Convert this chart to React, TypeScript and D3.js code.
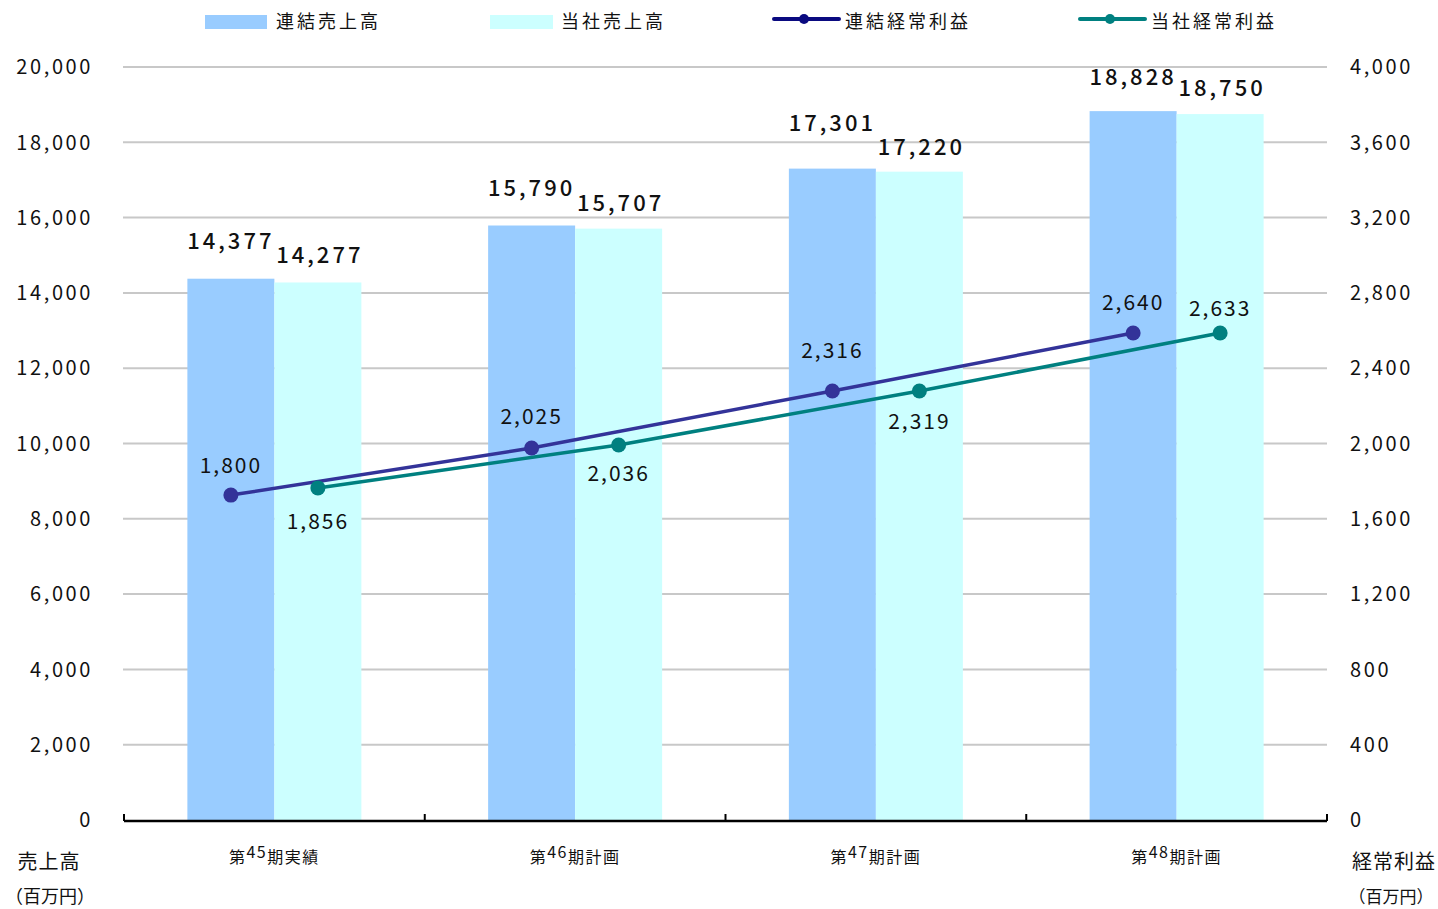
import React from "react";
import * as d3 from "d3";

const categories = ["45", "46", "47", "48"];
const categoryPrefix = "第";
const categorySuffix = ["期実績", "期計画", "期計画", "期計画"];
const seriesNames = ["連結売上高", "当社売上高", "連結経常利益", "当社経常利益"];
const consolidatedSales = [14377, 15790, 17301, 18828];
const companySales = [14277, 15707, 17220, 18750];
// plotted positions of the profit lines
const consolidatedProfitPlot = [1726, 1976, 2279, 2587];
const companyProfitPlot = [1764, 1992, 2279, 2587];
// the value labels printed on the profit lines
const consolidatedProfitLabels = [1800, 2025, 2316, 2640];
const companyProfitLabels = [1856, 2036, 2319, 2633];
const leftTicks = [0, 2000, 4000, 6000, 8000, 10000, 12000, 14000, 16000, 18000, 20000];
const rightTicks = [0, 400, 800, 1200, 1600, 2000, 2400, 2800, 3200, 3600, 4000];

const W = 1438;
const H = 909;
const FONT = "'Noto Sans CJK JP', 'Noto Sans', sans-serif";
const C_DARKBAR = "#99CCFF";
const C_LIGHTBAR = "#CCFFFF";
const C_LINE1 = "#333399";
const C_LINE1_LEG = "#0A0A80";
const C_LINE2 = "#008080";

export default function App() {
  const x0 = 124, x1 = 1327, yTop = 67, yBot = 820;
  const fmt = d3.format(",");
  const xBand = d3.scaleBand<string>().domain(categories).range([x0, x1]).padding(0);
  const groupW = 174;
  const xInner = d3.scaleBand<string>().domain(["a", "b"]).range([0, groupW]).padding(0);
  const yL = d3.scaleLinear().domain([0, 20000]).range([yBot, yTop]);
  const yR = d3.scaleLinear().domain([0, 4000]).range([yBot, yTop]);
  const gx = (c: string) => (xBand(c) as number) + xBand.bandwidth() / 2 - groupW / 2;
  const cxA = (c: string) => gx(c) + (xInner("a") as number) + xInner.bandwidth() / 2;
  const cxB = (c: string) => gx(c) + (xInner("b") as number) + xInner.bandwidth() / 2;

  const line1 = d3.line<number>().x((_, i) => cxA(categories[i])).y((d) => yR(d));
  const line2 = d3.line<number>().x((_, i) => cxB(categories[i])).y((d) => yR(d));

  const l1Off = [-22, -24, -33, -23];
  const l2Off = [41, 36, 38, -17];
  const b1Off = [-30, -30, -38, -26];
  const b2Off = [-19, -18, -17, -18];

  const tickXs = [...categories.map((c) => xBand(c) as number), x1];

  return (
    <div style={{ position: "absolute", left: 0, top: 0 }}>
      <svg width={W} height={H} style={{ display: "block", fontFamily: FONT }}>
        <rect width={W} height={H} fill="#fff" />
        {/* gridlines */}
        {leftTicks.slice(1).map((t) => (
          <line key={t} x1={x0 - 1} x2={x1} y1={yL(t)} y2={yL(t)} stroke="#C8C8C8" strokeWidth={2} />
        ))}
        {/* bars */}
        {categories.map((c, i) => (
          <g key={c}>
            <rect x={gx(c) + (xInner("a") as number)} width={xInner.bandwidth()} y={yL(consolidatedSales[i])} height={yBot - yL(consolidatedSales[i])} fill={C_DARKBAR} />
            <rect x={gx(c) + (xInner("b") as number)} width={xInner.bandwidth()} y={yL(companySales[i])} height={yBot - yL(companySales[i])} fill={C_LIGHTBAR} />
          </g>
        ))}
        {/* axis */}
        <line x1={x0} x2={x1} y1={yBot + 1} y2={yBot + 1} stroke="#000" strokeWidth={2.5} />
        {tickXs.map((t, i) => (
          <line key={i} x1={t} x2={t} y1={yBot + 1} y2={yBot - 6} stroke="#000" strokeWidth={2} />
        ))}
        {/* left ticks */}
        {leftTicks.map((t) => (
          <text key={t} x={93} y={yL(t)} dy="0.36em" textAnchor="end" fontSize={20} letterSpacing={2.6} fill="#111">{fmt(t)}</text>
        ))}
        {rightTicks.map((t) => (
          <text key={t} x={1350} y={yR(t)} dy="0.36em" textAnchor="start" fontSize={20} letterSpacing={2.6} fill="#111">{fmt(t)}</text>
        ))}
        {/* lines */}
        <path d={line1(consolidatedProfitPlot) as string} fill="none" stroke={C_LINE1} strokeWidth={3.5} />
        <path d={line2(companyProfitPlot) as string} fill="none" stroke={C_LINE2} strokeWidth={3.5} />
        {categories.map((c, i) => (
          <g key={c}>
            <circle cx={cxA(c)} cy={yR(consolidatedProfitPlot[i])} r={7.5} fill={C_LINE1} />
            <circle cx={cxB(c)} cy={yR(companyProfitPlot[i])} r={7.5} fill={C_LINE2} />
          </g>
        ))}
        {/* bar labels */}
        {categories.map((c, i) => (
          <g key={c} fontSize={22} fontWeight={500} letterSpacing={3} fill="#111" textAnchor="middle">
            <text x={cxA(c)} y={yL(consolidatedSales[i]) + b1Off[i]}>{fmt(consolidatedSales[i])}</text>
            <text x={cxB(c) + 2} y={yL(companySales[i]) + b2Off[i]}>{fmt(companySales[i])}</text>
          </g>
        ))}
        {/* line labels */}
        {categories.map((c, i) => (
          <g key={c} fontSize={21} letterSpacing={2} fill="#111" textAnchor="middle">
            <text x={cxA(c)} y={yR(consolidatedProfitPlot[i]) + l1Off[i]}>{fmt(consolidatedProfitLabels[i])}</text>
            <text x={cxB(c)} y={yR(companyProfitPlot[i]) + l2Off[i]}>{fmt(companyProfitLabels[i])}</text>
          </g>
        ))}
        {/* category labels */}
        {categories.map((c, i) => (
          <text key={c} x={(xBand(c) as number) + xBand.bandwidth() / 2} y={863} textAnchor="middle" fontSize={16} letterSpacing={1.5} fill="#111">
            {categoryPrefix}
            <tspan dy={-5}>{c}</tspan>
            <tspan dy={5}>{categorySuffix[i]}</tspan>
          </text>
        ))}
        {/* axis titles */}
        <text x={49} y={869} textAnchor="middle" fontSize={20} letterSpacing={1} fill="#111">売上高</text>
        <text x={50} y={903} textAnchor="middle" fontSize={18} fill="#111">（百万円）</text>
        <text x={1394} y={869} textAnchor="middle" fontSize={20} letterSpacing={1} fill="#111">経常利益</text>
        <text x={1391} y={903} textAnchor="middle" fontSize={17} fill="#111">（百万円）</text>
        {/* legend */}
        <rect x={205} y={15} width={62} height={14} fill={C_DARKBAR} />
        <text x={276} y={28} fontSize={18} letterSpacing={3} fill="#111">{seriesNames[0]}</text>
        <rect x={490} y={15} width={63} height={14} fill={C_LIGHTBAR} />
        <text x={561} y={28} fontSize={18} letterSpacing={3} fill="#111">{seriesNames[1]}</text>
        <line x1={774} x2={839} y1={19} y2={19} stroke={C_LINE1_LEG} strokeWidth={4} strokeLinecap="round" />
        <circle cx={804} cy={19} r={5} fill={C_LINE1_LEG} />
        <text x={845} y={28} fontSize={18} letterSpacing={3} fill="#111">{seriesNames[2]}</text>
        <line x1={1080} x2={1145} y1={19} y2={19} stroke={C_LINE2} strokeWidth={4} strokeLinecap="round" />
        <circle cx={1110} cy={19} r={5} fill={C_LINE2} />
        <text x={1151} y={28} fontSize={18} letterSpacing={3} fill="#111">{seriesNames[3]}</text>
      </svg>
    </div>
  );
}
